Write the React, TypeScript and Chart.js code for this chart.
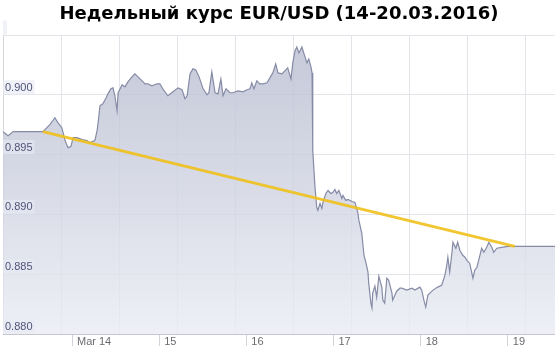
import React, { useEffect, useRef } from 'react';
import { Chart, registerables } from 'chart.js';

Chart.register(...registerables);

const TITLE = 'Недельный курс EUR/USD (14-20.03.2016)';

// hours since Mar 14 00:00
const hours = [
  -19.0, -17.6, -16.2, -8.0, -6.1, -4.7, -3.9, -2.8, -1.9, -1.1, -0.3, 0.3, 1.4, 2.8, 4.1, 5.0, 6.3, 6.9, 7.2, 7.7,
  8.5, 9.4, 9.9, 10.7, 11.3, 11.8, 12.4, 12.7, 13.8, 14.6, 15.4, 16.5, 17.3, 18.2, 19.3, 20.1, 20.9, 22.0, 23.4, 24.2,
  25.0, 26.4, 27.8, 29.2, 30.3, 31.1, 31.7, 32.5, 33.3, 34.1, 35.0, 36.1, 37.2, 37.7, 38.5, 39.4, 40.2, 41.0, 41.6, 42.4,
  43.5, 44.3, 45.7, 47.1, 48.2, 49.0, 49.5, 50.1, 50.9, 51.7, 52.6, 53.7, 54.8, 55.3, 56.1, 56.7, 57.8, 58.6, 59.4, 60.3,
  60.8, 61.4, 61.9, 62.5, 63.3, 63.9, 64.7, 65.2, 65.8, 66.1, 66.3, 66.9, 67.4, 67.7, 68.3, 68.8, 69.1, 69.9, 70.5, 71.3,
  71.8, 72.4, 72.9, 73.5, 74.3, 74.6, 75.4, 76.0, 77.1, 77.9, 78.7, 79.0, 79.8, 80.4, 80.9, 81.5, 81.7, 82.3, 82.6, 82.8,
  83.4, 83.9, 84.5, 85.3, 85.6, 86.1, 86.7, 87.2, 88.1, 88.3, 89.4, 90.3, 90.8, 92.2, 93.6, 94.4, 95.8, 96.3, 96.9, 97.4,
  98.0, 99.4, 100.7, 101.8, 102.7, 103.2, 103.5, 104.0, 104.6, 104.9, 105.7, 106.2, 106.8, 107.6, 108.2, 108.7, 109.5, 110.4, 110.9, 111.5,
  112.0, 112.8, 113.4, 114.2, 114.8, 115.6, 116.1, 117.0, 118.3, 120.0, 121.9, 133.0,
];

const rates = [
  0.89692, 0.89658, 0.89692, 0.89692, 0.8975, 0.89808, 0.89767, 0.89725, 0.89617, 0.89558, 0.89567, 0.89642, 0.89642, 0.89625, 0.89617, 0.896, 0.89617, 0.897, 0.89767, 0.89908,
  0.89925, 0.89975, 0.90008, 0.9005, 0.90058, 0.89992, 0.89867, 0.90017, 0.90083, 0.90067, 0.90108, 0.9015, 0.90175, 0.9015, 0.90117, 0.90092, 0.90092, 0.90075, 0.90092, 0.90092,
  0.9005, 0.89992, 0.90025, 0.90058, 0.90042, 0.89967, 0.89992, 0.90175, 0.90217, 0.90208, 0.9015, 0.9005, 0.9, 0.90017, 0.90192, 0.90017, 0.90008, 0.90133, 0.89992, 0.9005,
  0.90017, 0.90017, 0.90033, 0.90025, 0.90042, 0.9005, 0.901, 0.9005, 0.90117, 0.90092, 0.90092, 0.901, 0.90158, 0.90183, 0.90258, 0.90183, 0.90175, 0.902, 0.90225, 0.90133,
  0.90267, 0.90367, 0.904, 0.9035, 0.904, 0.90342, 0.90267, 0.903, 0.90233, 0.90183, 0.89533, 0.89233, 0.89058, 0.89033, 0.89092, 0.8905, 0.891, 0.89175, 0.892, 0.89175,
  0.89183, 0.89208, 0.89175, 0.892, 0.89133, 0.89158, 0.89117, 0.89125, 0.89108, 0.891, 0.89017, 0.8895, 0.88842, 0.88658, 0.886, 0.88517, 0.88425, 0.88258, 0.88217, 0.88342,
  0.884, 0.88308, 0.88483, 0.88392, 0.88283, 0.88258, 0.88467, 0.8845, 0.88342, 0.88283, 0.88358, 0.88383, 0.88383, 0.88367, 0.88383, 0.88367, 0.88392, 0.88367, 0.88283, 0.88225,
  0.88325, 0.88367, 0.88392, 0.88408, 0.88492, 0.88575, 0.88642, 0.88517, 0.88675, 0.88767, 0.88717, 0.88767, 0.887, 0.88658, 0.88642, 0.88617, 0.88592, 0.88467, 0.88533, 0.88558,
  0.88617, 0.88717, 0.88683, 0.88725, 0.88767, 0.88725, 0.88683, 0.88717, 0.88725, 0.88733, 0.88733, 0.88733,
];

const trendHours = [-8.0, 121.9];
const trendRates = [0.89692, 0.88733];

const dayTicks = [0, 24, 48, 72, 96, 120];
const dayLabels = ['Mar 14', '15', '16', '17', '18', '19'];
const gridHours = [-19, -3, 13, 29, 45, 61, 77, 93, 109, 125];
const yTicks = [0.88, 0.885, 0.89, 0.895, 0.9, 0.905];
const yLabels = ['0.880', '0.885', '0.890', '0.895', '0.900', ''];
const X_MIN = -19;
const X_MAX = 133;
const Y_MIN = 0.88;
const Y_MAX = 0.905;

export default function App() {
  const ref = useRef<HTMLCanvasElement | null>(null);

  useEffect(() => {
    if (!ref.current) return;
    const chart = new Chart(ref.current, {
      type: 'line',
      data: {
        datasets: [
          {
            data: trendHours.map((h, i) => ({ x: h, y: trendRates[i] })),
            borderColor: 'rgba(240, 192, 26, 0.9)',
            borderWidth: 3,
            pointRadius: 0,
            fill: false,
            tension: 0,
          },
          {
            data: hours.map((h, i) => ({ x: h, y: rates[i] })),
            borderColor: '#868ba6',
            borderWidth: 1.2,
            pointRadius: 0,
            tension: 0,
            fill: 'start',
            backgroundColor: (ctx: any) => {
              const { chart: c } = ctx;
              const area = c.chartArea;
              if (!area) return '#d0d3df';
              const g = c.ctx.createLinearGradient(0, area.top, 0, area.bottom);
              g.addColorStop(0, 'rgba(184, 189, 208, 0.82)');
              g.addColorStop(0.5, 'rgba(206, 210, 224, 0.8)');
              g.addColorStop(1, 'rgba(234, 236, 244, 0.8)');
              return g;
            },
          },
        ],
      },
      options: {
        animation: false,
        responsive: false,
        layout: { padding: { left: 3, right: 0, top: 0, bottom: 0 } },
        plugins: {
          legend: { display: false },
          tooltip: { enabled: false },
          title: {
            display: true,
            text: TITLE,
            color: '#000',
            font: { family: 'DejaVu Sans', size: 18, weight: 'bold' },
            padding: { top: 4, bottom: 9.4 },
          },
        },
        scales: {
          x: {
            type: 'linear',
            position: 'bottom',
            min: X_MIN,
            max: X_MAX,
            afterBuildTicks: (s: any) => {
              s.ticks = gridHours.map((v) => ({ value: v }));
            },
            ticks: { display: false },
            grid: { color: '#e3e3ea', drawTicks: false },
            border: { color: '#c4c6d0', z: 1 },
          },
          x2: {
            type: 'linear',
            position: 'bottom',
            min: X_MIN,
            max: X_MAX,
            afterBuildTicks: (s: any) => {
              s.ticks = dayTicks.map((v) => ({ value: v }));
            },
            afterFit: (s: any) => {
              s.height = 16;
            },
            ticks: {
              autoSkip: false,
              maxRotation: 0,
              align: 'start',
              labelOffset: 5,
              padding: -11,
              color: '#6b6b70',
              font: { family: 'Liberation Sans', size: 11 },
              callback: (v: any) => {
                const i = dayTicks.indexOf(Number(v));
                return i >= 0 ? dayLabels[i] : '';
              },
            },
            grid: { color: 'transparent', tickColor: '#d2d2d8', drawTicks: true, tickLength: 12, drawOnChartArea: false },
            border: { display: false },
          },
          y: {
            type: 'linear',
            min: Y_MIN,
            max: Y_MAX,
            afterBuildTicks: (s: any) => {
              s.ticks = yTicks.map((v) => ({ value: v }));
            },
            afterFit: (s: any) => {
              s.width = 0;
            },
            ticks: {
              autoSkip: false,
              mirror: true,
              z: 2,
              padding: 2,
              labelOffset: -7,
              color: '#4f5479',
              font: { family: 'Liberation Sans', size: 11 },
              showLabelBackdrop: true,
              backdropColor: 'rgba(232, 234, 243, 0.6)',
              backdropPadding: { left: 2, right: 2, top: 1, bottom: 0 },
              callback: (v: any) => {
                const i = yTicks.findIndex((t) => Math.abs(t - Number(v)) < 1e-6);
                return i >= 0 ? yLabels[i] : '';
              },
            },
            grid: { color: '#e3e3ea', drawTicks: false },
            border: { color: '#d6d6dd' },
          },
        },
      } as any,
    });
    return () => chart.destroy();
  }, []);

  return (
    <div style={{ position: 'absolute', left: 0, top: 0, width: 555, height: 350, background: '#fff' }}>
      <canvas ref={ref} width={555} height={350} style={{ display: 'block' }} />
    </div>
  );
}
